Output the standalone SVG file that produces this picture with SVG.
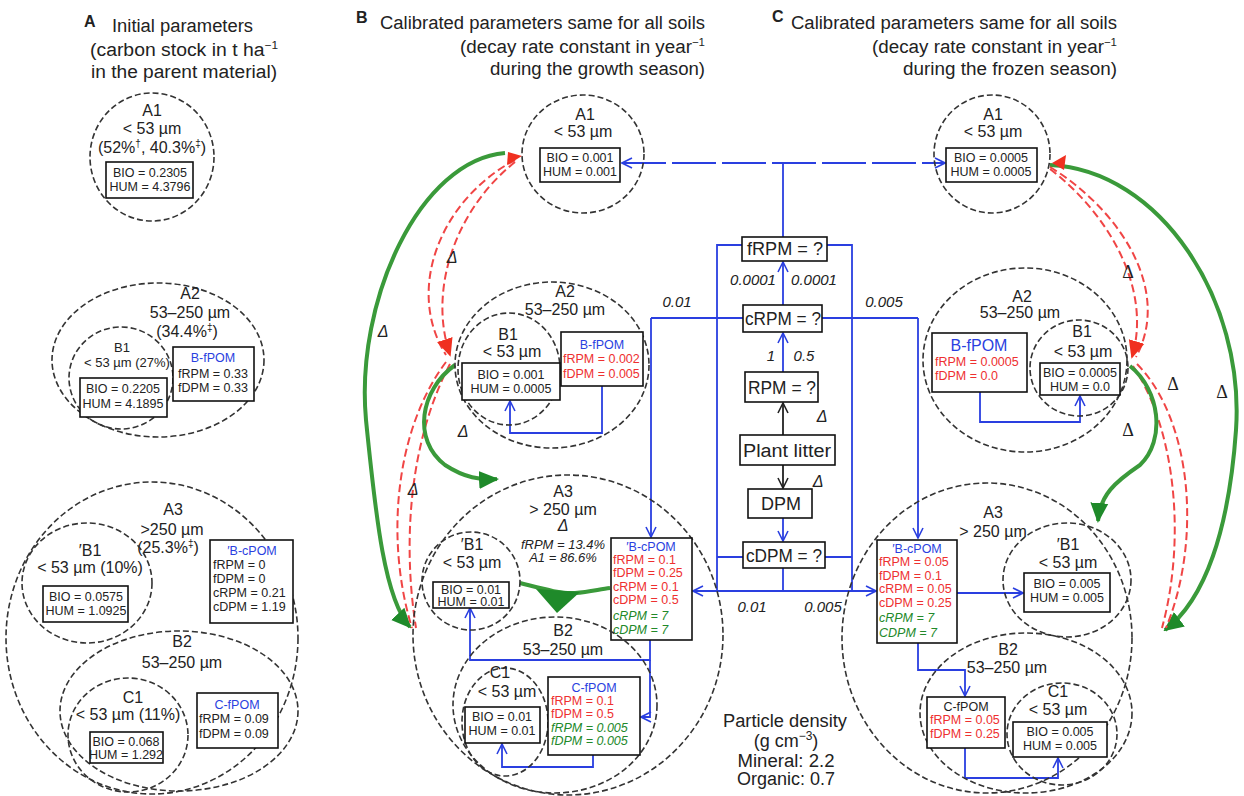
<svg xmlns="http://www.w3.org/2000/svg" width="1244" height="796" viewBox="0 0 1244 796">
<defs>
<style>
text{font-family:"Liberation Sans",Arial,sans-serif;fill:#222}
.ttl{font-size:18px}
.hd{font-size:16px;font-weight:bold}
.lb{font-size:16px;text-anchor:middle}
.cl{font-size:18px;text-anchor:middle}
.sm{font-size:13px;text-anchor:middle}
.bx{font-size:12.5px;text-anchor:middle}
.bl{font-size:12.5px}
.blu{fill:#2a3fe0}
.red{fill:#ee3030}
.grn{fill:#22892a}
.it{font-style:italic}
.num{font-size:15px;font-style:italic;text-anchor:middle}
.del{font-size:16px;font-style:italic;text-anchor:middle}
.delr{font-family:"Liberation Serif",serif;font-size:18px;text-anchor:middle}
.cir{fill:none;stroke:#333;stroke-width:1.6;stroke-dasharray:6 3}
.box{fill:#fff;stroke:#111;stroke-width:1.6}
.bc{fill:none;stroke:#2a3fe0;stroke-width:1.8}
.bk{fill:none;stroke:#222;stroke-width:1.8}
.rd{fill:none;stroke:#f04545;stroke-width:2;stroke-dasharray:8 4}
.gr{fill:none;stroke:#3a9a3a;stroke-width:4}
</style>
<marker id="ab" viewBox="0 0 12 12" refX="11" refY="6" markerWidth="12" markerHeight="12" orient="auto-start-reverse" markerUnits="userSpaceOnUse"><path d="M1,1 L11,6 L1,11" fill="none" stroke="#2a3fe0" stroke-width="1.6"/></marker>
<marker id="ak" viewBox="0 0 12 12" refX="11" refY="6" markerWidth="12" markerHeight="12" orient="auto" markerUnits="userSpaceOnUse"><path d="M1,1 L11,6 L1,11" fill="none" stroke="#222" stroke-width="1.6"/></marker>
<marker id="ag" viewBox="0 0 20 20" refX="18" refY="10" markerWidth="20" markerHeight="20" orient="auto" markerUnits="userSpaceOnUse"><path d="M0,1 L20,10 L0,19 Z" fill="#1f8a2a"/></marker>
<marker id="ar" viewBox="0 0 20 20" refX="18" refY="10" markerWidth="18" markerHeight="18" orient="auto" markerUnits="userSpaceOnUse"><path d="M0,1 L20,10 L0,19 Z" fill="#f03020"/></marker>
</defs>
<rect width="1244" height="796" fill="#fff"/>

<!-- Titles -->
<g id="title-A">
<text class="hd" x="84" y="27">A</text>
<text class="ttl" x="112" y="32" textLength="141" lengthAdjust="spacingAndGlyphs">Initial parameters</text>
<text class="ttl" x="90" y="56" textLength="188" lengthAdjust="spacingAndGlyphs">(carbon stock in t ha<tspan font-size="11" dy="-7">−1</tspan></text>
<text class="ttl" x="91" y="78" textLength="186" lengthAdjust="spacingAndGlyphs">in the parent material)</text>
</g>
<g id="title-B">
<text class="hd" x="356" y="23">B</text>
<text class="ttl" x="380" y="29" textLength="325" lengthAdjust="spacingAndGlyphs">Calibrated parameters same for all soils</text>
<text class="ttl" x="460" y="53" textLength="245" lengthAdjust="spacingAndGlyphs">(decay rate constant in year<tspan font-size="11" dy="-7">−1</tspan></text>
<text class="ttl" x="490" y="75" textLength="215" lengthAdjust="spacingAndGlyphs">during the growth season)</text>
</g>
<g id="title-C">
<text class="hd" x="772" y="22">C</text>
<text class="ttl" x="791" y="29" textLength="326" lengthAdjust="spacingAndGlyphs">Calibrated parameters same for all soils</text>
<text class="ttl" x="872" y="53" textLength="245" lengthAdjust="spacingAndGlyphs">(decay rate constant in year<tspan font-size="11" dy="-7">−1</tspan></text>
<text class="ttl" x="903" y="75" textLength="214" lengthAdjust="spacingAndGlyphs">during the frozen season)</text>
</g>

<!-- Panel A -->
<g id="A-A1">
<ellipse class="cir" cx="152" cy="157" rx="62" ry="64"/>
<text class="lb" x="152" y="116">A1</text>
<text class="lb" x="152" y="134">&lt; 53 µm</text>
<text class="lb" x="152" y="153" font-size="15">(52%<tspan font-size="10" dy="-6">†</tspan><tspan dy="6">, 40.3%</tspan><tspan font-size="10" dy="-6">‡</tspan><tspan dy="6">)</tspan></text>
<rect class="box" x="106" y="162" width="87" height="36"/>
<text class="bx" x="150" y="177">BIO = 0.2305</text>
<text class="bx" x="150" y="191">HUM = 4.3796</text>
</g>
<g id="A-A2">
<ellipse class="cir" cx="158" cy="360" rx="106" ry="77"/>
<text class="lb" x="190" y="299">A2</text>
<text class="lb" x="190" y="318">53–250 µm</text>
<text class="lb" x="187" y="337" font-size="15">(34.4%<tspan font-size="10" dy="-6">‡</tspan><tspan dy="6">)</tspan></text>
</g>
<g id="A-A2-B1">
<ellipse class="cir" cx="121" cy="378" rx="52" ry="51"/>
<text class="sm" x="122" y="352">B1</text>
<text class="sm" x="127" y="367">&lt; 53 µm (27%)</text>
<rect class="box" x="80" y="378" width="87" height="39"/>
<text class="bx" x="123" y="393">BIO = 0.2205</text>
<text class="bx" x="123" y="408">HUM = 4.1895</text>
</g>
<g id="A-A2-BfPOM">
<rect class="box" x="173" y="347" width="81" height="54"/>
<text class="bx blu" x="213" y="362">B-fPOM</text>
<text class="bx" x="213" y="378">fRPM = 0.33</text>
<text class="bx" x="213" y="392">fDPM = 0.33</text>
</g>
<g id="A-A3">
<ellipse class="cir" cx="152" cy="638" rx="146" ry="156"/>
<text class="lb" x="173" y="515">A3</text>
<text class="lb" x="172" y="535">&gt;250 µm</text>
<text class="lb" x="168" y="553" font-size="15">(25.3%<tspan font-size="10" dy="-6">‡</tspan><tspan dy="6">)</tspan></text>
</g>
<g id="A-A3-B1">
<ellipse class="cir" cx="87" cy="583" rx="65" ry="60"/>
<text class="lb" x="90" y="556">′B1</text>
<text class="lb" x="90" y="573" font-size="15">&lt; 53 µm (10%)</text>
<rect class="box" x="43" y="586" width="85" height="36"/>
<text class="bx" x="86" y="601">BIO = 0.0575</text>
<text class="bx" x="86" y="615">HUM = 1.0925</text>
</g>
<g id="A-A3-BcPOM">
<rect class="box" x="210" y="540" width="83" height="83"/>
<text class="bx blu" x="252" y="555">′B-cPOM</text>
<text class="bl" x="213" y="569">fRPM = 0</text>
<text class="bl" x="213" y="583">fDPM = 0</text>
<text class="bl" x="213" y="597">cRPM = 0.21</text>
<text class="bl" x="213" y="611">cDPM = 1.19</text>
</g>
<g id="A-A3-B2">
<ellipse class="cir" cx="179" cy="711" rx="119" ry="80"/>
<text class="lb" x="182" y="647">B2</text>
<text class="lb" x="182" y="668">53–250 µm</text>
</g>
<g id="A-A3-C1">
<ellipse class="cir" cx="128" cy="735" rx="60" ry="57"/>
<text class="lb" x="133" y="703">C1</text>
<text class="lb" x="128" y="720" font-size="15">&lt; 53 µm (11%)</text>
<rect class="box" x="90" y="732" width="73" height="31"/>
<text class="bx" x="126" y="746">BIO = 0.068</text>
<text class="bx" x="126" y="759">HUM = 1.292</text>
</g>
<g id="A-A3-CfPOM">
<rect class="box" x="197" y="693" width="81" height="55"/>
<text class="bx blu" x="237" y="709">C-fPOM</text>
<text class="bl" x="199" y="723">fRPM = 0.09</text>
<text class="bl" x="199" y="738">fDPM = 0.09</text>
</g>

<!-- Connectors -->
<g id="connectors">
<!-- central blue network -->
<path class="bc" d="M622,163 H945" stroke-dasharray="44 6" marker-start="url(#ab)" marker-end="url(#ab)"/>
<path class="bc" d="M783,237 V163"/>
<path class="bc" d="M742,245 H717 V591 M827,245 H852 V591"/>
<path class="bc" d="M717,557 H743 M825,557 H852"/>
<path class="bc" d="M693,591 H876" marker-start="url(#ab)" marker-end="url(#ab)"/>
<path class="bc" d="M783,568 V591"/>
<path class="bc" d="M651,318 H743 M822,318 H918"/>
<path class="bc" d="M651,318 V537" marker-end="url(#ab)"/>
<path class="bc" d="M918,318 V538" marker-end="url(#ab)"/>
<path class="bc" d="M783,305 V262" marker-end="url(#ab)"/>
<path class="bc" d="M783,372 V333" marker-end="url(#ab)"/>
<path class="bc" d="M783,518 V541" marker-end="url(#ab)"/>
<path class="bk" d="M783,435 V403" marker-end="url(#ak)"/>
<path class="bk" d="M783,465 V488" marker-end="url(#ak)"/>
<!-- B panel internal -->
<path class="bc" d="M602,386 V433 H510 V401" marker-end="url(#ab)"/>
<path class="bc" d="M650,640 V660 H470 V608" marker-end="url(#ab)"/>
<path class="bc" d="M650,660 V717 H641" marker-end="url(#ab)"/>
<path class="bc" d="M593,755 V767 H502 V744" marker-end="url(#ab)"/>
<!-- C panel internal -->
<path class="bc" d="M980,392 V422 H1080 V396" marker-end="url(#ab)"/>
<path class="bc" d="M957,593 H1023" marker-end="url(#ab)"/>
<path class="bc" d="M918,643 V670 H965 V696" marker-end="url(#ab)"/>
<path class="bc" d="M965,748 V778 H1058 V758" marker-end="url(#ab)"/>
<!-- B panel transfers -->
<path class="gr" d="M505,153 C420,160 355,300 366,420 C376,520 385,600 410,627" marker-end="url(#ag)"/>
<path class="rd" d="M515,160 C440,200 405,290 446,355"/>
<path class="rd" d="M515,162 C455,210 428,290 450,355" marker-end="url(#ar)"/>
<path class="rd" d="M446,362 C395,430 385,540 412,628"/>
<path class="rd" d="M450,364 C410,440 402,540 416,628"/>
<path d="M508,152 L522,156 L507,165 Z" fill="#f03020"/>
<path class="gr" d="M455,365 C420,390 412,440 445,465 C465,478 480,480 497,479" marker-end="url(#ag)"/>
<path class="gr" d="M520,583 C540,588 560,594 575,593 C590,592 600,589 610,588"/>
<path d="M536,589 L580,592 L557,613 Z" fill="#1f8a2a"/>
<!-- C panel transfers -->
<path class="gr" d="M1050,165 C1160,170 1245,300 1236,430 C1229,530 1205,600 1165,630" marker-end="url(#ag)"/>
<path class="rd" d="M1050,167 C1120,210 1172,290 1136,357"/>
<path class="rd" d="M1050,169 C1110,215 1152,290 1132,357" marker-end="url(#ar)"/>
<path class="rd" d="M1137,364 C1192,420 1202,540 1166,628"/>
<path class="rd" d="M1133,366 C1176,430 1186,540 1162,628"/>
<path d="M1052,163 L1066,155 L1064,170 Z" fill="#f03020"/>
<path class="gr" d="M1130,366 C1160,390 1166,440 1140,465 C1115,482 1100,495 1098,521" marker-end="url(#ag)"/>
</g>

<!-- Connector labels -->
<g id="labels">
<text class="num" x="753" y="285">0.0001</text>
<text class="num" x="814" y="285">0.0001</text>
<text class="num" x="771" y="361">1</text>
<text class="num" x="804" y="361">0.5</text>
<text class="num" x="677" y="307">0.01</text>
<text class="num" x="884" y="307">0.005</text>
<text class="num" x="752" y="612">0.01</text>
<text class="num" x="823" y="612">0.005</text>
<text class="del" x="822" y="422">Δ</text>
<text class="del" x="818" y="487">Δ</text>
<text class="del" x="452" y="263">Δ</text>
<text class="del" x="383" y="337">Δ</text>
<text class="del" x="463" y="437">Δ</text>
<text class="del" x="413" y="495">Δ</text>
<text class="delr" x="1128" y="278">Δ</text>
<text class="delr" x="1173" y="390">Δ</text>
<text class="delr" x="1128" y="436">Δ</text>
<text class="delr" x="1222" y="398">Δ</text>
</g>

<!-- Central pools -->
<g id="fRPM"><rect class="box" x="742" y="237" width="85" height="24"/><text class="cl" x="785" y="255" textLength="76" lengthAdjust="spacingAndGlyphs">fRPM = ?</text></g>
<g id="cRPM"><rect class="box" x="743" y="305" width="79" height="27"/><text class="cl" x="783" y="325" textLength="76" lengthAdjust="spacingAndGlyphs">cRPM = ?</text></g>
<g id="RPM"><rect class="box" x="745" y="372" width="73" height="30"/><text class="cl" x="782" y="394" textLength="68" lengthAdjust="spacingAndGlyphs">RPM = ?</text></g>
<g id="PlantLitter"><rect class="box" x="740" y="435" width="95" height="30"/><text class="cl" x="787" y="457" textLength="88" lengthAdjust="spacingAndGlyphs">Plant litter</text></g>
<g id="DPM"><rect class="box" x="748" y="489" width="64" height="29"/><text class="cl" x="781" y="510">DPM</text></g>
<g id="cDPM"><rect class="box" x="743" y="542" width="82" height="26"/><text class="cl" x="784" y="562" textLength="76" lengthAdjust="spacingAndGlyphs">cDPM = ?</text></g>

<!-- Panel B -->
<g id="B-A1">
<ellipse class="cir" cx="583" cy="154" rx="61" ry="59"/>
<text class="lb" x="585" y="120">A1</text>
<text class="lb" x="583" y="137">&lt; 53 µm</text>
<rect class="box" x="540" y="148" width="80" height="34"/>
<text class="bx" x="580" y="162">BIO = 0.001</text>
<text class="bx" x="580" y="176">HUM = 0.001</text>
</g>
<g id="B-A2">
<ellipse class="cir" cx="552" cy="365" rx="97" ry="83"/>
<text class="lb" x="565" y="297">A2</text>
<text class="lb" x="565" y="315">53–250 µm</text>
</g>
<g id="B-A2-B1">
<ellipse class="cir" cx="509" cy="369" rx="51" ry="56"/>
<text class="lb" x="508" y="340">B1</text>
<text class="lb" x="512" y="357">&lt; 53 µm</text>
<rect class="box" x="462" y="363" width="98" height="37"/>
<text class="bx" x="511" y="379">BIO = 0.001</text>
<text class="bx" x="511" y="393">HUM = 0.0005</text>
</g>
<g id="B-A2-BfPOM">
<rect class="box" x="561" y="332" width="82" height="54"/>
<text class="bx blu" x="602" y="349">B-fPOM</text>
<text class="bl red" x="563" y="363">fRPM = 0.002</text>
<text class="bl red" x="563" y="378">fDPM = 0.005</text>
</g>
<g id="B-A3">
<ellipse class="cir" cx="568" cy="635" rx="155" ry="160"/>
<text class="lb" x="563" y="497">A3</text>
<text class="lb" x="563" y="515">&gt; 250 µm</text>
<text class="del" x="563" y="531" font-size="10">Δ</text>
<text class="sm it" x="563" y="549">fRPM = 13.4%</text>
<text class="sm it" x="563" y="562">A1 = 86.6%</text>
</g>
<g id="B-A3-B1">
<ellipse class="cir" cx="471" cy="581" rx="49" ry="49"/>
<text class="lb" x="472" y="550">′B1</text>
<text class="lb" x="472" y="568">&lt; 53 µm</text>
<rect class="box" x="433" y="582" width="76" height="26"/>
<text class="bx" x="471" y="594">BIO = 0.01</text>
<text class="bx" x="471" y="606">HUM = 0.01</text>
</g>
<g id="B-A3-BcPOM">
<rect class="box" x="611" y="538" width="81" height="102"/>
<text class="bx blu" x="651" y="551">′B-cPOM</text>
<text class="bl red" x="613" y="564">fRPM = 0.1</text>
<text class="bl red" x="613" y="577">fDPM = 0.25</text>
<text class="bl red" x="613" y="591">cRPM = 0.1</text>
<text class="bl red" x="613" y="604">cDPM = 0.5</text>
<text class="bl grn it" x="613" y="620">cRPM = 7</text>
<text class="bl grn it" x="613" y="634">cDPM = 7</text>
</g>
<g id="B-A3-B2">
<ellipse class="cir" cx="555" cy="705" rx="102" ry="88"/>
<text class="lb" x="563" y="636">B2</text>
<text class="lb" x="563" y="655">53–250 µm</text>
</g>
<g id="B-A3-C1">
<ellipse class="cir" cx="505" cy="722" rx="43" ry="54"/>
<text class="lb" x="500" y="678">C1</text>
<text class="lb" x="507" y="697">&lt; 53 µm</text>
<rect class="box" x="465" y="707" width="75" height="36"/>
<text class="bx" x="502" y="721">BIO = 0.01</text>
<text class="bx" x="502" y="735">HUM = 0.01</text>
</g>
<g id="B-A3-CfPOM">
<rect class="box" x="548" y="677" width="92" height="78"/>
<text class="bx blu" x="594" y="692">C-fPOM</text>
<text class="bl red" x="551" y="705">fRPM = 0.1</text>
<text class="bl red" x="551" y="718">fDPM = 0.5</text>
<text class="bl grn it" x="551" y="732">fRPM = 0.005</text>
<text class="bl grn it" x="551" y="745">fDPM = 0.005</text>
</g>

<!-- Panel C -->
<g id="C-A1">
<ellipse class="cir" cx="992" cy="154" rx="58" ry="59"/>
<text class="lb" x="993" y="120">A1</text>
<text class="lb" x="993" y="137">&lt; 53 µm</text>
<rect class="box" x="946" y="148" width="91" height="34"/>
<text class="bx" x="991" y="162">BIO = 0.0005</text>
<text class="bx" x="991" y="176">HUM = 0.0005</text>
</g>
<g id="C-A2">
<ellipse class="cir" cx="1025" cy="360" rx="102" ry="92"/>
<text class="lb" x="1022" y="302">A2</text>
<text class="lb" x="1020" y="318">53–250 µm</text>
</g>
<g id="C-A2-B1">
<ellipse class="cir" cx="1079" cy="368" rx="49" ry="48"/>
<text class="lb" x="1082" y="337">B1</text>
<text class="lb" x="1083" y="357">&lt; 53 µm</text>
<rect class="box" x="1040" y="363" width="80" height="32"/>
<text class="bx" x="1080" y="377">BIO = 0.0005</text>
<text class="bx" x="1080" y="391">HUM = 0.0</text>
</g>
<g id="C-A2-BfPOM">
<rect class="box" x="932" y="333" width="95" height="59"/>
<text class="lb blu" x="979" y="351">B-fPOM</text>
<text class="bl red" x="935" y="366">fRPM = 0.0005</text>
<text class="bl red" x="935" y="380">fDPM = 0.0</text>
</g>
<g id="C-A3">
<ellipse class="cir" cx="987" cy="638" rx="145" ry="155"/>
<text class="lb" x="993" y="518">A3</text>
<text class="lb" x="993" y="537">&gt; 250 µm</text>
</g>
<g id="C-A3-B1">
<ellipse class="cir" cx="1067" cy="580" rx="64" ry="57"/>
<text class="lb" x="1068" y="550">′B1</text>
<text class="lb" x="1068" y="568">&lt; 53 µm</text>
<rect class="box" x="1024" y="573" width="86" height="39"/>
<text class="bx" x="1067" y="588">BIO = 0.005</text>
<text class="bx" x="1067" y="602">HUM = 0.005</text>
</g>
<g id="C-A3-BcPOM">
<rect class="box" x="877" y="540" width="80" height="103"/>
<text class="bx blu" x="917" y="553">′B-cPOM</text>
<text class="bl red" x="879" y="566">fRPM = 0.05</text>
<text class="bl red" x="879" y="580">fDPM = 0.1</text>
<text class="bl red" x="879" y="593">cRPM = 0.05</text>
<text class="bl red" x="879" y="607">cDPM = 0.25</text>
<text class="bl grn it" x="879" y="622">cRPM = 7</text>
<text class="bl grn it" x="879" y="637">CDPM = 7</text>
</g>
<g id="C-A3-B2">
<ellipse class="cir" cx="1026" cy="713" rx="106" ry="80"/>
<text class="lb" x="1008" y="655">B2</text>
<text class="lb" x="1007" y="673">53–250 µm</text>
</g>
<g id="C-A3-C1">
<ellipse class="cir" cx="1062" cy="734" rx="55" ry="51"/>
<text class="lb" x="1058" y="697">C1</text>
<text class="lb" x="1058" y="715">&lt; 53 µm</text>
<rect class="box" x="1013" y="722" width="94" height="35"/>
<text class="bx" x="1060" y="736">BIO = 0.005</text>
<text class="bx" x="1060" y="750">HUM = 0.005</text>
</g>
<g id="C-A3-CfPOM">
<rect class="box" x="927" y="697" width="78" height="51"/>
<text class="bx" x="966" y="711">C-fPOM</text>
<text class="bl red" x="930" y="724">fRPM = 0.05</text>
<text class="bl red" x="930" y="738">fDPM = 0.25</text>
</g>

<g id="particle-density">
<text class="cl" x="785" y="727" font-size="19" textLength="124" lengthAdjust="spacingAndGlyphs">Particle density</text>
<text class="cl" x="786" y="747" font-size="19">(g cm<tspan font-size="12" dy="-7">−3</tspan><tspan dy="7">)</tspan></text>
<text class="cl" x="786" y="767" font-size="19" textLength="97" lengthAdjust="spacingAndGlyphs">Mineral: 2.2</text>
<text class="cl" x="786" y="785" font-size="19" textLength="98" lengthAdjust="spacingAndGlyphs">Organic: 0.7</text>
</g>
</svg>
